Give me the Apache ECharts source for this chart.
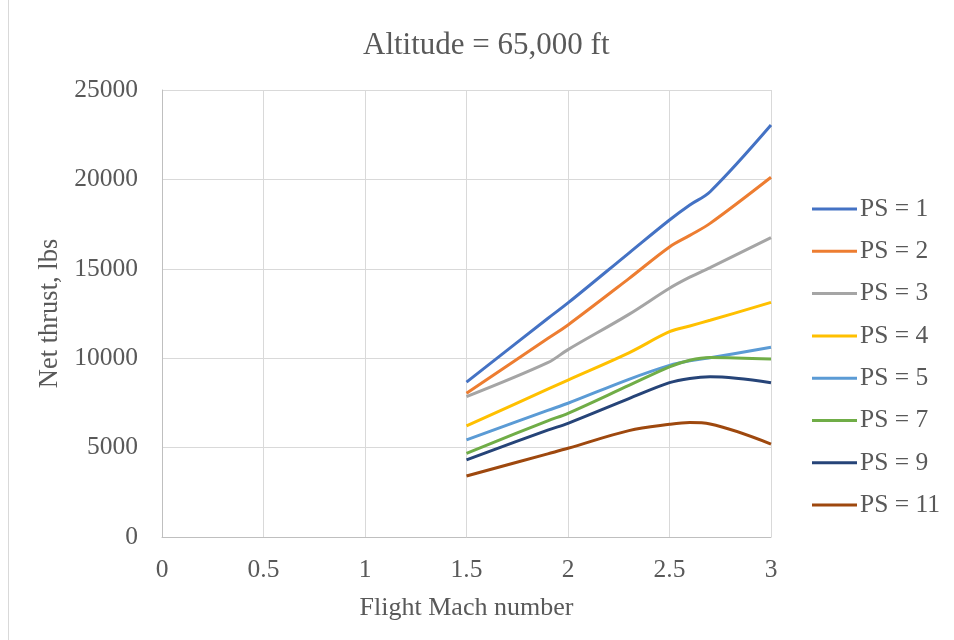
<!DOCTYPE html>
<html>
<head>
<meta charset="utf-8">
<script src="https://cdn.jsdelivr.net/npm/echarts@6/dist/echarts.min.js"></script>
<style>
html,body{margin:0;padding:0;background:#fff;}
#chart{width:954px;height:640px;}
</style>
</head>
<body>
<div id="chart"></div>
<script>
const titleText = "Altitude = 65,000 ft";
const xAxisName = "Flight Mach number";
const yAxisName = "Net thrust, lbs";
const mach = [1.5, 1.9, 2.0, 2.3, 2.5, 2.6, 2.7, 3.0];
const seriesNames = ["PS = 1", "PS = 2", "PS = 3", "PS = 4", "PS = 5", "PS = 7", "PS = 9", "PS = 11"];
const ps1  = [8660, 12220, 13090, 15880, 17730, 18570, 19310, 23040];
const ps2  = [8040, 11100, 11860, 14450, 16220, 16870, 17540, 20120];
const ps3  = [7850, 9750, 10480, 12450, 13910, 14530, 15070, 16740];
const ps4  = [6210, 8270, 8780, 10300, 11480, 11800, 12120, 13120];
const ps5  = [5430, 7080, 7480, 8820, 9600, 9860, 10030, 10610];
const ps7  = [4680, 6500, 6920, 8480, 9520, 9890, 10040, 9950];
const ps9  = [4310, 5980, 6360, 7740, 8630, 8870, 8960, 8630];
const ps11 = [3410, 4650, 4960, 5950, 6300, 6400, 6320, 5200];
const allSeries = [ps1, ps2, ps3, ps4, ps5, ps7, ps9, ps11];
const colors = ["#4472C4", "#ED7D31", "#A5A5A5", "#FFC000", "#5B9BD5", "#70AD47", "#264478", "#9E480E"];

const font = "'Liberation Serif', 'Times New Roman', serif";
const textColor = "#595959";

const chart = echarts.init(document.getElementById('chart'), null, {renderer: 'canvas'});
chart.setOption({
  animation: false,
  backgroundColor: '#ffffff',
  color: colors,
  title: {
    text: titleText,
    left: 358,
    top: 25,
    textStyle: {fontFamily: font, fontSize: 31, fontWeight: 'normal', color: textColor}
  },
  grid: {left: 162, right: 183, top: 90, bottom: 103, containLabel: false},
  legend: {
    orient: 'vertical',
    left: 807,
    top: 191,
    itemWidth: 45,
    itemHeight: 3,
    itemGap: 16.3,
    icon: 'rect',
    textStyle: {fontFamily: font, fontSize: 25.5, color: textColor, padding: [0,0,0,-2]},
    data: seriesNames
  },
  xAxis: {
    type: 'value',
    min: 0, max: 3, interval: 0.5,
    name: xAxisName,
    nameLocation: 'middle',
    nameGap: 58,
    nameTextStyle: {fontFamily: font, fontSize: 26, color: textColor},
    axisLine: {show: true, lineStyle: {color: '#bfbfbf', width: 1}},
    axisTick: {show: false},
    axisLabel: {fontFamily: font, fontSize: 25.5, color: textColor, margin: 20},
    splitLine: {show: true, lineStyle: {color: '#d9d9d9', width: 1}}
  },
  yAxis: {
    type: 'value',
    min: 0, max: 25000, interval: 5000,
    name: yAxisName,
    nameLocation: 'middle',
    nameGap: 96,
    nameTextStyle: {fontFamily: font, fontSize: 26.5, color: textColor},
    axisLine: {show: true, lineStyle: {color: '#bfbfbf', width: 1}},
    axisTick: {show: false},
    axisLabel: {fontFamily: font, fontSize: 25.5, color: textColor, margin: 24,
      formatter: v => String(v)},
    splitLine: {show: true, lineStyle: {color: '#d9d9d9', width: 1}}
  },
  graphic: [{
    type: 'line',
    shape: {x1: 8.5, y1: 0, x2: 8.5, y2: 640},
    style: {stroke: '#d9d9d9', lineWidth: 1}
  }],
  series: allSeries.map((vals, i) => ({
    name: seriesNames[i],
    type: 'line',
    data: mach.map((m, j) => [m, vals[j]]),
    smooth: 0.35,
    symbol: 'none',
    lineStyle: {width: 3, color: colors[i]},
    itemStyle: {color: colors[i]}
  }))
});
</script>
</body>
</html>
